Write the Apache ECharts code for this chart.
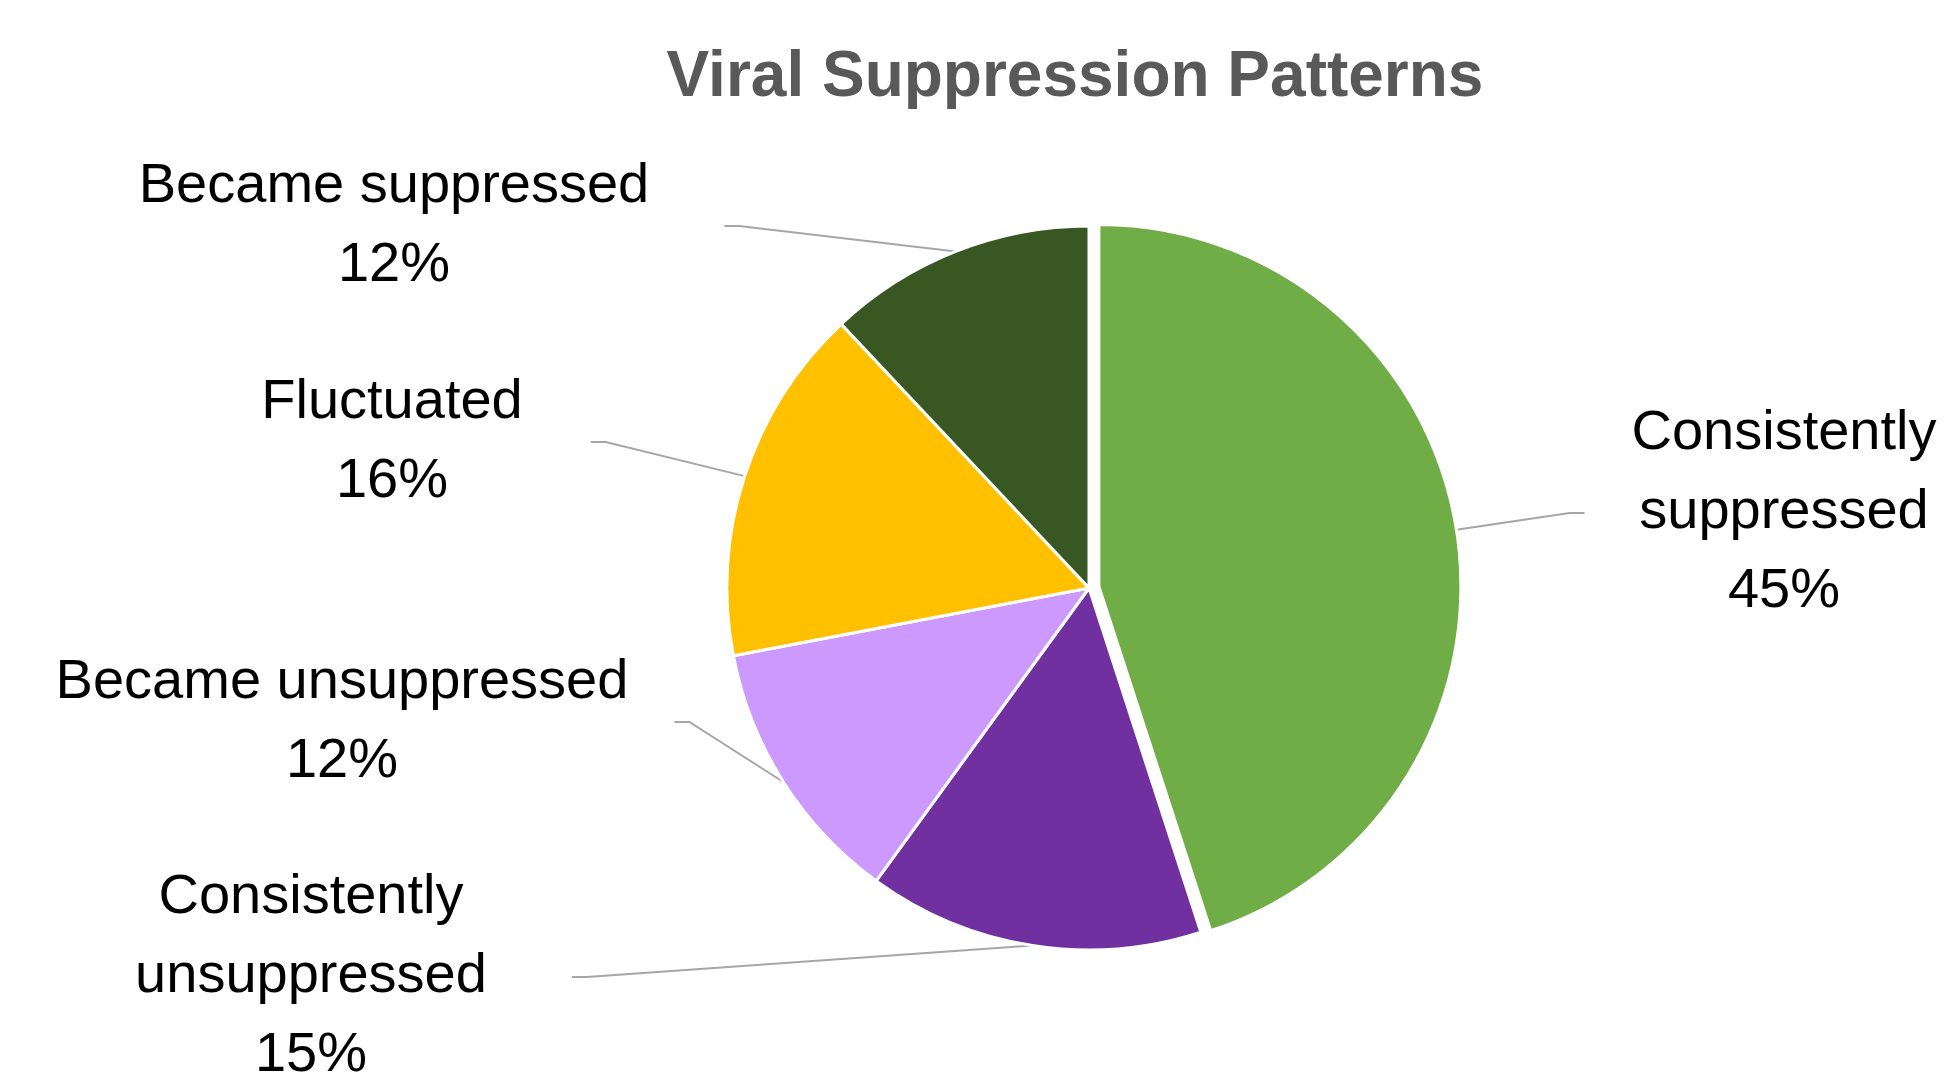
<!DOCTYPE html>
<html>
<head>
<meta charset="utf-8">
<title>Viral Suppression Patterns</title>
<script src="https://cdn.jsdelivr.net/npm/echarts@6/dist/echarts.min.js"></script>
<style>
  html, body { margin: 0; padding: 0; background: #ffffff; }
  #chart { width: 1949px; height: 1088px; }
</style>
</head>
<body>
<div id="chart"></div>
<script>
// Share of patients by viral suppression pattern (percent)
const categories = [
  'Consistently\nsuppressed',
  'Consistently\nunsuppressed',
  'Became unsuppressed',
  'Fluctuated',
  'Became suppressed'
];
const shares = [45, 15, 12, 16, 12];
const colors = ['#70AD47', '#7030A0', '#CC99FF', '#FFC000', '#385723'];

// Label block centres and horizontal padding around each label box
const labelPos = [[1784, 513], [311, 977], [342, 722], [392, 442], [394, 226]];
const labelPad = [47, 85, 46, 68, 75];

// Pie geometry; the first slice is pulled out along its bisector
const pieCenter = [1089, 588];
const pieRadius = 362;
const explodeDist = 10;

const total = shares.reduce((a, b) => a + b, 0);
const midAngle = (shares[0] / total) * Math.PI; // radians clockwise from 12 o'clock
const explodedCenter = [
  pieCenter[0] + explodeDist * Math.sin(midAngle),
  pieCenter[1] - explodeDist * Math.cos(midAngle)
];

const font = '"Liberation Sans", Arial, sans-serif';

const labelStyle = {
  show: true,
  position: 'outside',
  formatter: '{b}\n{c}%',
  fontFamily: font,
  fontSize: 56,
  lineHeight: 79,
  color: '#000000',
  backgroundColor: 'rgba(255,255,255,0)'
};
const lineStyle = {
  show: true,
  length: 20,
  length2: 15,
  lineStyle: { color: '#A6A6A6', width: 2 }
};
const hidden = { color: 'rgba(0,0,0,0)', borderWidth: 0 };

// Main pie: every slice except the pulled-out one
const mainData = categories.map((name, i) => (i === 0 ? {
  name: name, value: shares[i],
  itemStyle: hidden,
  label: { show: false }, labelLine: { show: false }
} : {
  name: name, value: shares[i],
  itemStyle: { color: colors[i] },
  label: { padding: [0, labelPad[i]] }
}));

// Pulled-out slice, drawn on its own shifted centre
const rest = shares.slice(1).reduce((a, b) => a + b, 0);
const explodedData = [
  { name: categories[0], value: shares[0], itemStyle: { color: colors[0] },
    label: { padding: [0, labelPad[0]] } },
  { name: '', value: rest, itemStyle: hidden,
    label: { show: false }, labelLine: { show: false } }
];

const chart = echarts.init(document.getElementById('chart'), null, { renderer: 'canvas' });

chart.setOption({
  backgroundColor: '#ffffff',
  animation: false,
  title: {
    text: 'Viral Suppression Patterns',
    left: 1070,
    top: 41,
    textAlign: 'center',
    textStyle: { fontFamily: font, fontSize: 64, fontWeight: 'bold', color: '#595959' }
  },
  series: [{
    type: 'pie',
    center: pieCenter,
    radius: pieRadius,
    startAngle: 90,
    clockwise: true,
    avoidLabelOverlap: false,
    silent: true,
    data: mainData,
    itemStyle: { borderColor: '#ffffff', borderWidth: 3 },
    label: labelStyle,
    labelLine: lineStyle,
    labelLayout: function (params) {
      const p = labelPos[params.dataIndex];
      return { x: p[0], y: p[1], align: 'center', verticalAlign: 'middle' };
    }
  }, {
    type: 'pie',
    center: explodedCenter,
    radius: pieRadius,
    startAngle: 90,
    clockwise: true,
    avoidLabelOverlap: false,
    silent: true,
    data: explodedData,
    itemStyle: { borderColor: '#ffffff', borderWidth: 3 },
    label: labelStyle,
    labelLine: lineStyle,
    labelLayout: function (params) {
      const p = labelPos[0];
      return { x: p[0], y: p[1], align: 'center', verticalAlign: 'middle' };
    }
  }]
});
</script>
</body>
</html>
